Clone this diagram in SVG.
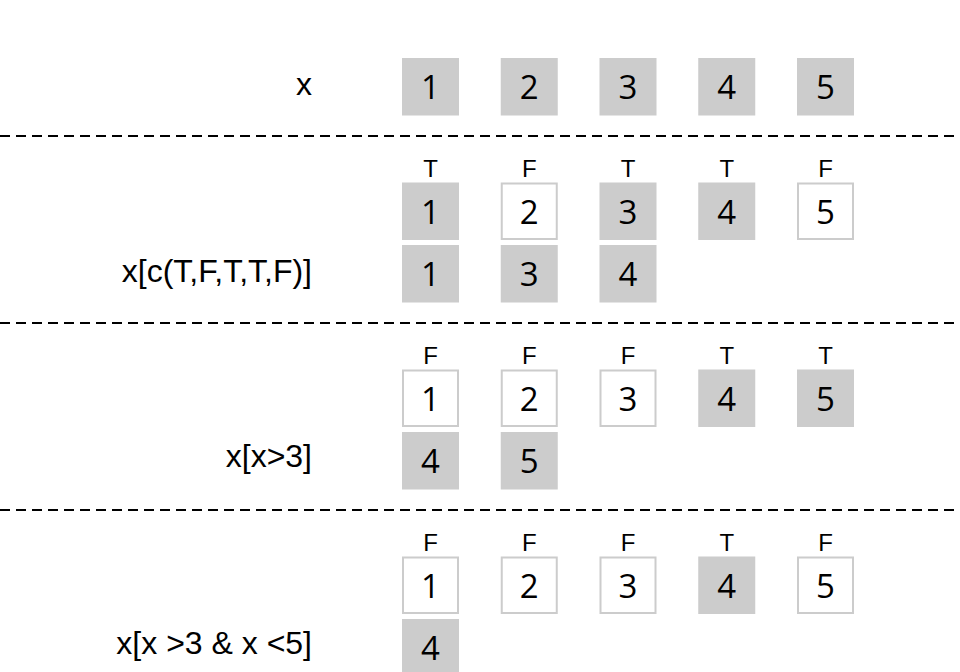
<svg xmlns="http://www.w3.org/2000/svg" width="960" height="672" viewBox="0 0 960 672">
<style>
.on{fill:#cccccc;}
.off{fill:#ffffff;stroke:#cccccc;stroke-width:2;}
.num{font-family:"Open Sans","Noto Sans","DejaVu Sans",sans-serif;font-size:33px;fill:#000;text-anchor:middle;}
.tf{font-family:"Liberation Sans",Arial,sans-serif;font-size:24px;fill:#000;text-anchor:middle;}
.lbl{font-family:"Liberation Sans",Arial,sans-serif;font-size:32px;fill:#000;text-anchor:end;}
.sep{stroke:#000;stroke-width:2;stroke-dasharray:10,6;fill:none;}
</style>
<rect width="960" height="672" fill="#ffffff"/>
<g id="separators">
<line class="sep" x1="0" y1="136" x2="960" y2="136"/>
<line class="sep" x1="0" y1="323" x2="960" y2="323"/>
<line class="sep" x1="0" y1="510" x2="960" y2="510"/>
</g>
<g id="row1">
<text class="lbl" x="312" y="95">x</text>
<g id="r1b1"><rect class="on" x="402" y="58" width="57" height="57.5"/><text class="num" x="430.5" y="99">1</text></g>
<g id="r1b2"><rect class="on" x="500.75" y="58" width="57" height="57.5"/><text class="num" x="529.25" y="99">2</text></g>
<g id="r1b3"><rect class="on" x="599.5" y="58" width="57" height="57.5"/><text class="num" x="628" y="99">3</text></g>
<g id="r1b4"><rect class="on" x="698.25" y="58" width="57" height="57.5"/><text class="num" x="726.75" y="99">4</text></g>
<g id="r1b5"><rect class="on" x="797" y="58" width="57" height="57.5"/><text class="num" x="825.5" y="99">5</text></g>
</g>
<g id="row2">
<text class="lbl" x="312" y="282">x[c(T,F,T,T,F)]</text>
<g id="r2b1"><text class="tf" x="430.5" y="177">T</text><rect class="on" x="402" y="182.5" width="57" height="57.5"/><text class="num" x="430.5" y="223.5">1</text></g>
<g id="r2b2"><text class="tf" x="529.25" y="177">F</text><rect class="off" x="501.75" y="183.5" width="55" height="55.5"/><text class="num" x="529.25" y="223.5">2</text></g>
<g id="r2b3"><text class="tf" x="628" y="177">T</text><rect class="on" x="599.5" y="182.5" width="57" height="57.5"/><text class="num" x="628" y="223.5">3</text></g>
<g id="r2b4"><text class="tf" x="726.75" y="177">T</text><rect class="on" x="698.25" y="182.5" width="57" height="57.5"/><text class="num" x="726.75" y="223.5">4</text></g>
<g id="r2b5"><text class="tf" x="825.5" y="177">F</text><rect class="off" x="798" y="183.5" width="55" height="55.5"/><text class="num" x="825.5" y="223.5">5</text></g>
<g id="r2s1"><rect class="on" x="402" y="245" width="57" height="57.5"/><text class="num" x="430.5" y="286">1</text></g>
<g id="r2s2"><rect class="on" x="500.75" y="245" width="57" height="57.5"/><text class="num" x="529.25" y="286">3</text></g>
<g id="r2s3"><rect class="on" x="599.5" y="245" width="57" height="57.5"/><text class="num" x="628" y="286">4</text></g>
</g>
<g id="row3">
<text class="lbl" x="312" y="467">x[x&gt;3]</text>
<g id="r3b1"><text class="tf" x="430.5" y="364">F</text><rect class="off" x="403" y="370.5" width="55" height="55.5"/><text class="num" x="430.5" y="410.5">1</text></g>
<g id="r3b2"><text class="tf" x="529.25" y="364">F</text><rect class="off" x="501.75" y="370.5" width="55" height="55.5"/><text class="num" x="529.25" y="410.5">2</text></g>
<g id="r3b3"><text class="tf" x="628" y="364">F</text><rect class="off" x="600.5" y="370.5" width="55" height="55.5"/><text class="num" x="628" y="410.5">3</text></g>
<g id="r3b4"><text class="tf" x="726.75" y="364">T</text><rect class="on" x="698.25" y="369.5" width="57" height="57.5"/><text class="num" x="726.75" y="410.5">4</text></g>
<g id="r3b5"><text class="tf" x="825.5" y="364">T</text><rect class="on" x="797" y="369.5" width="57" height="57.5"/><text class="num" x="825.5" y="410.5">5</text></g>
<g id="r3s1"><rect class="on" x="402" y="432" width="57" height="57.5"/><text class="num" x="430.5" y="473">4</text></g>
<g id="r3s2"><rect class="on" x="500.75" y="432" width="57" height="57.5"/><text class="num" x="529.25" y="473">5</text></g>
</g>
<g id="row4">
<text class="lbl" x="312" y="654">x[x &gt;3 &amp; x &lt;5]</text>
<g id="r4b1"><text class="tf" x="430.5" y="551">F</text><rect class="off" x="403" y="557.5" width="55" height="55.5"/><text class="num" x="430.5" y="597.5">1</text></g>
<g id="r4b2"><text class="tf" x="529.25" y="551">F</text><rect class="off" x="501.75" y="557.5" width="55" height="55.5"/><text class="num" x="529.25" y="597.5">2</text></g>
<g id="r4b3"><text class="tf" x="628" y="551">F</text><rect class="off" x="600.5" y="557.5" width="55" height="55.5"/><text class="num" x="628" y="597.5">3</text></g>
<g id="r4b4"><text class="tf" x="726.75" y="551">T</text><rect class="on" x="698.25" y="556.5" width="57" height="57.5"/><text class="num" x="726.75" y="597.5">4</text></g>
<g id="r4b5"><text class="tf" x="825.5" y="551">F</text><rect class="off" x="798" y="557.5" width="55" height="55.5"/><text class="num" x="825.5" y="597.5">5</text></g>
<g id="r4s1"><rect class="on" x="402" y="619" width="57" height="57.5"/><text class="num" x="430.5" y="660">4</text></g>
</g>
</svg>
